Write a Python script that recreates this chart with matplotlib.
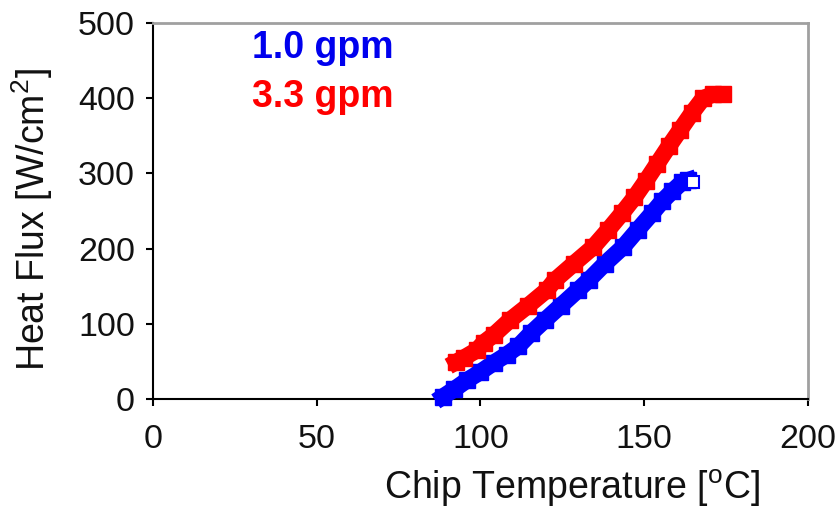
import matplotlib.pyplot as plt

plt.rcParams['font.family'] = ['Liberation Sans', 'DejaVu Sans']
plt.rcParams['mathtext.fontset'] = 'custom'
plt.rcParams['mathtext.rm'] = 'Liberation Sans'

#data (chip temperature in C, heat flux in W/cm2)
temp_1gpm = [88.5, 92.0, 95.9, 100.0, 104.0, 108.0, 111.5, 115.5, 119.7, 124.5, 129.8,
             133.0, 138.0, 143.5, 148.0, 152.4, 155.5, 158.5, 161.5, 163.5]
flux_1gpm = [3, 13, 25, 36, 48, 59, 70, 88, 105, 124, 145,
             158, 180, 202, 225, 247, 263, 276, 288, 291]
end_1gpm = [165.0, 289]

temp_3gpm = [92.5, 95.0, 98.9, 101.0, 104.0, 109.0, 114.5, 120.3, 122.7, 128.5, 134.4,
             139.0, 143.2, 147.0, 150.5, 154.0, 157.5, 161.0, 164.5, 168.0, 171.0, 174.0]
flux_3gpm = [49, 55, 65, 75, 85, 105, 124, 145, 158, 180, 202,
             225, 247, 268, 290, 313, 336, 358, 380, 400, 405, 405]

fig = plt.figure(figsize=(8.36, 5.16), dpi=100)
ax = fig.add_axes([0.183, 0.2267, 0.7835, 0.7287])

ax.plot(temp_1gpm, flux_1gpm, '-s', color='#0000FF', lw=12, ms=12, clip_on=False, zorder=3)
ax.plot(end_1gpm[0], end_1gpm[1], 's', mfc='white', mec='#0000FF', mew=1.5, ms=8, zorder=4)
ax.plot(temp_3gpm, flux_3gpm, '-s', color='#FF0000', lw=12, ms=12, clip_on=False, zorder=3)

ax.text(0.151, 0.934, '1.0 gpm', color='#0000EE', fontsize=27, fontweight='bold',
        transform=ax.transAxes, va='center')
ax.text(0.151, 0.803, '3.3 gpm', color='#FF0000', fontsize=27, fontweight='bold',
        transform=ax.transAxes, va='center')

ax.set_xlim(0, 200)
ax.set_ylim(0, 500)
ax.set_xticks([0, 50, 100, 150, 200])
ax.set_yticks([0, 100, 200, 300, 400, 500])
ax.tick_params(direction='out', length=5, width=1.5, labelsize=24.5, color='black',
               labelcolor='#111111')
ax.tick_params(axis='x', pad=13)
ax.tick_params(axis='y', pad=8)

for s in ['left', 'bottom']:
    ax.spines[s].set_linewidth(1.5)
    ax.spines[s].set_color('black')
for s in ['top', 'right']:
    ax.spines[s].set_linewidth(2)
    ax.spines[s].set_color('#A0A0A0')

ax.set_xlabel('Chip Temperature [$^{\\mathrm{o}}$C]', fontsize=27, color='#111111')
ax.set_ylabel('Heat Flux [W/cm$^{\\mathrm{2}}$]', fontsize=27, color='#111111')
ax.xaxis.set_label_coords(0.64, -0.183)
ax.yaxis.set_label_coords(-0.15, 0.476)

fig.savefig('out.png', dpi=100)
